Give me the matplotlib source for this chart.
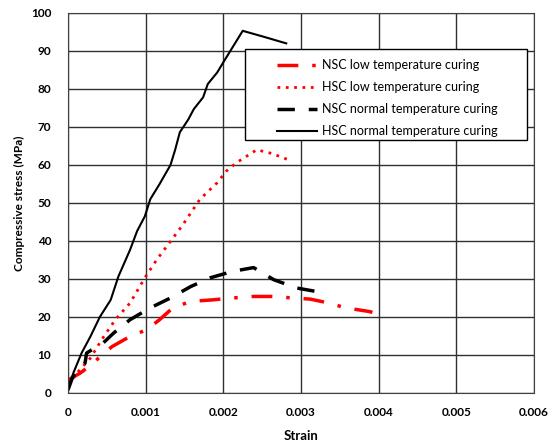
import matplotlib
matplotlib.use("Agg")
import matplotlib.pyplot as plt
from matplotlib.patches import Rectangle

# stress-strain curves
nsc_low_strain = [0, 0.000155, 0.00033, 0.000433, 0.000567, 0.0008, 0.00101, 0.00118, 0.00135,
                  0.00158, 0.00186, 0.00212, 0.00239, 0.00261, 0.0029, 0.00312, 0.00333,
                  0.00358, 0.00389, 0.00392]
nsc_low_stress = [3.4, 5.2, 7.9, 10.0, 12.2, 14.9, 16.6, 19.3, 22.4,
                  24.1, 24.5, 25.0, 25.4, 25.4, 25.0, 24.7, 23.8,
                  22.4, 21.4, 21.2]

hsc_low_strain = [0, 0.000113, 0.00029, 0.000433, 0.00061, 0.0008, 0.00099, 0.00114, 0.00132,
                  0.00148, 0.0017, 0.00192, 0.00204, 0.00217, 0.00243, 0.00263, 0.00282]
hsc_low_stress = [2.0, 5.2, 9.2, 14.0, 19.3, 23.7, 30.3, 35.0, 39.9,
                  44.3, 51.0, 55.3, 58.4, 60.6, 64.0, 63.0, 61.5]

nsc_norm_strain = [0, 0.00006, 0.00022, 0.00024, 0.00037, 0.00045, 0.00059, 0.0008, 0.00106,
                   0.00132, 0.00158, 0.00183, 0.00212, 0.00239, 0.00247, 0.00265, 0.00295,
                   0.0032, 0.00324]
nsc_norm_stress = [0.8, 4.2, 7.9, 10.5, 12.2, 13.1, 15.8, 19.3, 22.4,
                   25.0, 28.0, 30.3, 32.0, 33.0, 32.0, 29.8, 27.6,
                   26.7, 25.4]

hsc_norm_strain = [0, 0.00007, 0.000175, 0.00029, 0.00041, 0.00055, 0.00065, 0.0008, 0.00089,
                   0.00099, 0.00106, 0.00118, 0.00132, 0.00138, 0.00144, 0.00155, 0.00162,
                   0.00174, 0.0018, 0.00192, 0.002, 0.00209, 0.00225, 0.00251, 0.00281]
hsc_norm_stress = [0.8, 5.3, 10.5, 14.9, 20.0, 24.5, 30.7, 37.7, 42.6,
                   46.5, 51.0, 55.0, 60.0, 64.0, 68.6, 72.0, 74.7,
                   77.8, 81.3, 84.3, 87.0, 90.0, 95.3, 93.8, 92.0]

labels = ["NSC low temperature curing", "HSC low temperature curing",
          "NSC normal temperature curing", "HSC normal temperature curing"]

plt.rcParams['font.family'] = ['Lato', 'DejaVu Sans']

fig = plt.figure(figsize=(5.59, 4.44), dpi=100)
ax = fig.add_axes([0.1216, 0.1149, 0.8336, 0.8559])

ax.plot(nsc_low_strain, nsc_low_stress, color='red', lw=2.5, dashes=(6, 4, 1, 4), label=labels[0])
ax.plot(hsc_low_strain, hsc_low_stress, color='red', lw=2, linestyle=(0, (1, 2)), label=labels[1])
ax.plot(nsc_norm_strain, nsc_norm_stress, color='black', lw=2.5, dashes=(5, 4), label=labels[2])
ax.plot(hsc_norm_strain, hsc_norm_stress, color='black', lw=1.5, label=labels[3])

ax.set_xlim(0, 0.006)
ax.set_ylim(0, 100)
ax.set_xticks([0, 0.001, 0.002, 0.003, 0.004, 0.005, 0.006])
ax.set_xticklabels(['0', '0.001', '0.002', '0.003', '0.004', '0.005', '0.006'])
ax.set_yticks(range(0, 101, 10))
ax.grid(True, color='#303030', lw=1)
ax.tick_params(axis='x', length=0, labelsize=8.5, pad=10)
ax.tick_params(axis='y', length=0, labelsize=8.5, pad=12)
for t in ax.get_xticklabels() + ax.get_yticklabels():
    t.set_fontweight('bold')
for s in ax.spines.values():
    s.set_color('#404040')

ax.set_xlabel('Strain', fontsize=9.5, fontweight='bold', labelpad=9)
ax.set_ylabel('Compressive stress (MPa)', fontsize=8.5, fontweight='bold', labelpad=4)

# legend frame drawn separately so the handles can sit indented
ax.add_patch(Rectangle((0.38, 0.666), 0.605, 0.238, transform=ax.transAxes,
                       facecolor='white', edgecolor='black', lw=1, zorder=5))
leg = ax.legend(loc='upper left', bbox_to_anchor=(0.4485, 0.879), fontsize=9,
                frameon=False, handlelength=3.2, handletextpad=0.4,
                borderpad=0, borderaxespad=0, labelspacing=0.8)
leg.set_zorder(6)

fig.savefig('out.png', dpi=100)
